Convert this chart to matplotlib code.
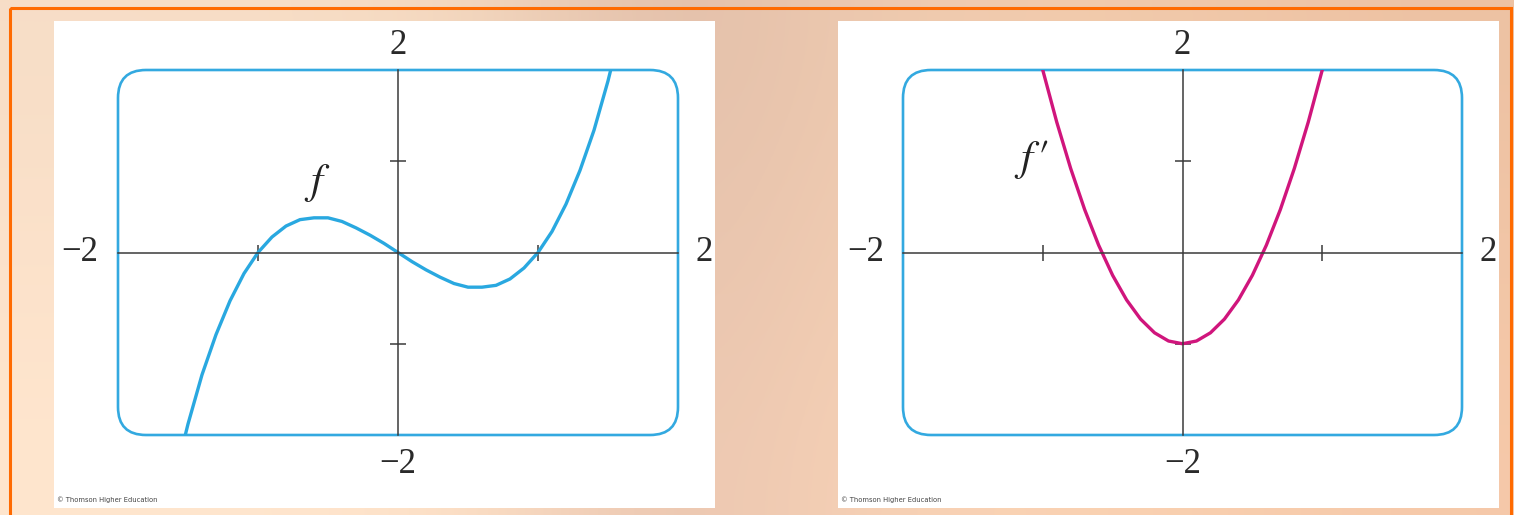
import matplotlib.pyplot as plt
import numpy as np
from matplotlib.patches import FancyBboxPatch, Rectangle

# values
xs_f = [-1.6, -1.5, -1.4, -1.3, -1.2, -1.1, -1.0, -0.9, -0.8, -0.7, -0.6, -0.5,
        -0.4, -0.3, -0.2, -0.1, 0.0, 0.1, 0.2, 0.3, 0.4, 0.5, 0.6, 0.7, 0.8,
        0.9, 1.0, 1.1, 1.2, 1.3, 1.4, 1.5, 1.6]
ys_f = [-2.5, -1.88, -1.34, -0.9, -0.53, -0.23, 0.0, 0.17, 0.29, 0.36, 0.38, 0.38,
        0.34, 0.27, 0.19, 0.1, 0.0, -0.1, -0.19, -0.27, -0.34, -0.38, -0.38, -0.36,
        -0.29, -0.17, 0.0, 0.23, 0.53, 0.9, 1.34, 1.88, 2.5]
xs_df = [-1.2, -1.1, -1.0, -0.9, -0.8, -0.7, -0.6, -0.5, -0.4, -0.3, -0.2, -0.1,
         0.0, 0.1, 0.2, 0.3, 0.4, 0.5, 0.6, 0.7, 0.8, 0.9, 1.0, 1.1, 1.2]
ys_df = [3.32, 2.63, 2.0, 1.43, 0.92, 0.47, 0.08, -0.25, -0.52, -0.73, -0.88, -0.97,
         -1.0, -0.97, -0.88, -0.73, -0.52, -0.25, 0.08, 0.47, 0.92, 1.43, 2.0, 2.63, 3.32]
tick_vals = [-1, 1]
lim = 2

W, H = 1514, 515
SERIF = "Liberation Serif"
plt.rcParams['mathtext.fontset'] = 'stix'

fig = plt.figure(figsize=(W / 100, H / 100), dpi=100)
bg = fig.add_axes([0, 0, 1, 1])
bg.set_xlim(0, W)
bg.set_ylim(H, 0)
bg.axis('off')

# textured peach background
cols = np.array([
    [0.97, 0.87, 0.78], [0.97, 0.87, 0.78], [0.96, 0.85, 0.75],
    [0.88, 0.74, 0.66], [0.93, 0.79, 0.69], [0.95, 0.80, 0.68],
    [0.94, 0.78, 0.66], [0.93, 0.76, 0.64]])
grad = np.zeros((4, len(cols), 3))
for i in range(4):
    grad[i] = cols * (1 + 0.012 * i)
grad = np.clip(grad, 0, 1)
bg.imshow(grad, extent=[0, W, H, 0], aspect='auto', interpolation='bicubic', zorder=0)
bg.add_patch(Rectangle((10, 8), 1501, 520, fill=False, ec='#ff6a00', lw=2.2, zorder=1))

panels = [(54, 21, 661, 487), (838, 21, 661, 487)]
frames = [(118, 70, 560, 365), (903, 70, 559, 365)]

for (px, py, pw, ph) in panels:
    bg.add_patch(Rectangle((px, py), pw, ph, fc='white', ec='none', zorder=2))
    bg.text(px + 3, py + ph - 5, "\u00a9 Thomson Higher Education", fontsize=4.9,
            color='#444444', va='bottom', ha='left', zorder=3)

for (fx, fy, fw, fh) in frames:
    bg.add_patch(FancyBboxPatch((fx, fy), fw, fh,
                                boxstyle="round,pad=0,rounding_size=28",
                                fill=False, ec='#33a9e0', lw=1.9, zorder=3))


def make_axes(fx, fy, fw, fh):
    ax = fig.add_axes([fx / W, (H - fy - fh) / H, fw / W, fh / H])
    ax.patch.set_alpha(0)
    ax.set_xlim(-lim, lim)
    ax.set_ylim(-lim, lim)
    for s in ['top', 'right']:
        ax.spines[s].set_visible(False)
    for s in ['left', 'bottom']:
        ax.spines[s].set_position('zero')
        ax.spines[s].set_color('#3a3a3a')
        ax.spines[s].set_linewidth(1.1)
    ax.set_xticks(tick_vals)
    ax.set_yticks(tick_vals)
    ax.tick_params(direction='inout', length=11, width=1.1, color='#3a3a3a',
                   labelbottom=False, labelleft=False)
    kw = dict(family=SERIF, fontsize=25, color='#2a2a2a', clip_on=False,
              ha='center', va='center')
    ax.text(0, 2.27, "2", **kw)
    ax.text(0, -2.32, "\u22122", **kw)
    ax.text(-2.27, 0, "\u22122", **kw)
    ax.text(2.19, 0, "2", **kw)
    return ax


ax1 = make_axes(*frames[0])
ax1.plot(xs_f, ys_f, color='#29a8e0', lw=2.4, solid_capstyle='butt')
ax1.text(-0.58, 0.76, "$f$", fontsize=31, color='#222222', ha='center', va='center')

ax2 = make_axes(*frames[1])
ax2.plot(xs_df, ys_df, color='#d0157c', lw=2.4, solid_capstyle='butt')
ax2.text(-1.08, 1.02, "$f\\,\\prime$", fontsize=31, color='#222222', ha='center', va='center')

fig.savefig("out.png", dpi=100)
